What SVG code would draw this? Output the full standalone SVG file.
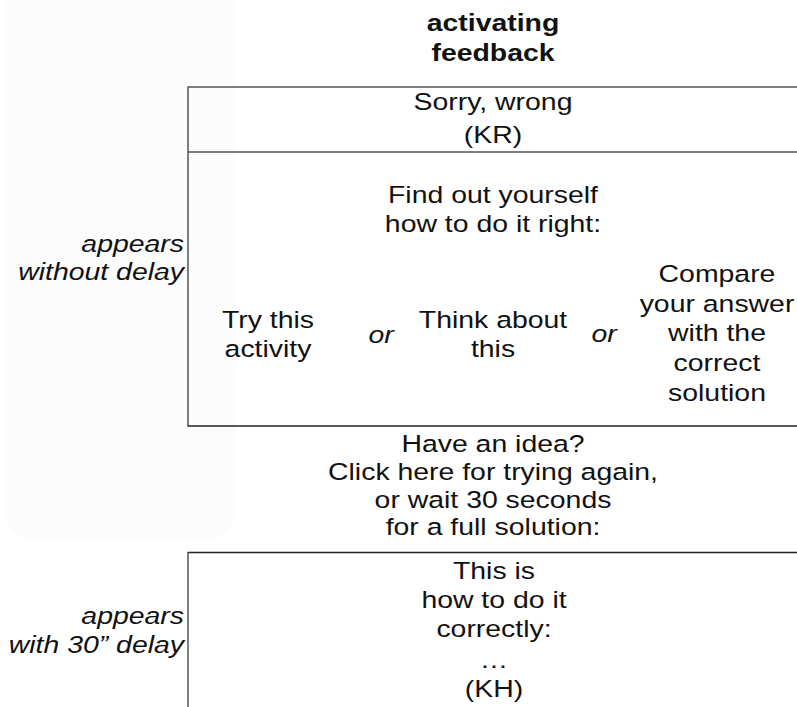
<svg xmlns="http://www.w3.org/2000/svg" width="797" height="707" viewBox="0 0 797 707">
<style>
  .t { font-family: "Liberation Sans", Arial, sans-serif; font-size: 24.5px; fill: #111; text-anchor: middle; }
  .b { font-weight: bold; }
  .i { font-style: italic; }
  .r { text-anchor: end; }
  .ln { stroke: #555; stroke-width: 1.5; fill: none; }
  .dk { stroke: #222; }
</style>
<rect id="ghost" x="5" y="-20" width="230" height="558" rx="25" fill="#fcfcfc"/>
<g id="frame">
  <line class="ln" x1="188" y1="87" x2="797" y2="87"/>
  <line class="ln" x1="188" y1="152" x2="797" y2="152"/>
  <line class="ln" x1="188" y1="86.5" x2="188" y2="426"/>
  <line class="ln dk" x1="187.5" y1="426" x2="797" y2="426"/>
  <line class="ln dk" x1="187.5" y1="552.5" x2="797" y2="552.5"/>
  <line class="ln" x1="188" y1="552" x2="188" y2="707"/>
</g>
<g id="connectors"/>
<g id="title">
  <text class="t b" transform="translate(493 0) scale(1.16 1)"><tspan x="0" y="31">activating</tspan><tspan x="0" y="61.5">feedback</tspan></text>
</g>
<g id="label-nodelay">
  <text class="t i r" transform="translate(184 0) scale(1.16 1)"><tspan x="0" y="252.5">appears</tspan><tspan x="0" y="280.5">without delay</tspan></text>
</g>
<g id="label-delay">
  <text class="t i r" transform="translate(184 0) scale(1.16 1)"><tspan x="0" y="624">appears</tspan><tspan x="0" y="653.5">with 30” delay</tspan></text>
</g>
<g id="kr">
  <text class="t" transform="translate(493 0) scale(1.16 1)"><tspan x="0" y="110.5">Sorry, wrong</tspan><tspan x="0" y="143">(KR)</tspan></text>
</g>
<g id="findout">
  <text class="t" transform="translate(493 0) scale(1.16 1)"><tspan x="0" y="203.5">Find out yourself</tspan><tspan x="0" y="232">how to do it right:</tspan></text>
</g>
<g id="try">
  <text class="t" transform="translate(268 0) scale(1.16 1)"><tspan x="0" y="328">Try this</tspan><tspan x="0" y="357">activity</tspan></text>
</g>
<g id="or1">
  <text class="t i" transform="translate(381 0) scale(1.16 1)" x="0" y="343">or</text>
</g>
<g id="think">
  <text class="t" transform="translate(493 0) scale(1.16 1)"><tspan x="0" y="328.5">Think about</tspan><tspan x="0" y="357.5">this</tspan></text>
</g>
<g id="or2">
  <text class="t i" transform="translate(604 0) scale(1.16 1)" x="0" y="342.5">or</text>
</g>
<g id="compare">
  <text class="t" transform="translate(717 0) scale(1.16 1)"><tspan x="0" y="282.5">Compare</tspan><tspan x="0" y="312">your answer</tspan><tspan x="0" y="341.5">with the</tspan><tspan x="0" y="371.5">correct</tspan><tspan x="0" y="401">solution</tspan></text>
</g>
<g id="idea">
  <text class="t" transform="translate(493 0) scale(1.16 1)"><tspan x="0" y="452">Have an idea?</tspan><tspan x="0" y="480">Click here for trying again,</tspan><tspan x="0" y="508">or wait 30 seconds</tspan><tspan x="0" y="535.5">for a full solution:</tspan></text>
</g>
<g id="kh">
  <text class="t" transform="translate(494 0) scale(1.16 1)"><tspan x="0" y="579">This is</tspan><tspan x="0" y="608.5">how to do it</tspan><tspan x="0" y="637.5">correctly:</tspan><tspan x="0" y="668">…</tspan><tspan x="0" y="697.5">(KH)</tspan></text>
</g>
</svg>
